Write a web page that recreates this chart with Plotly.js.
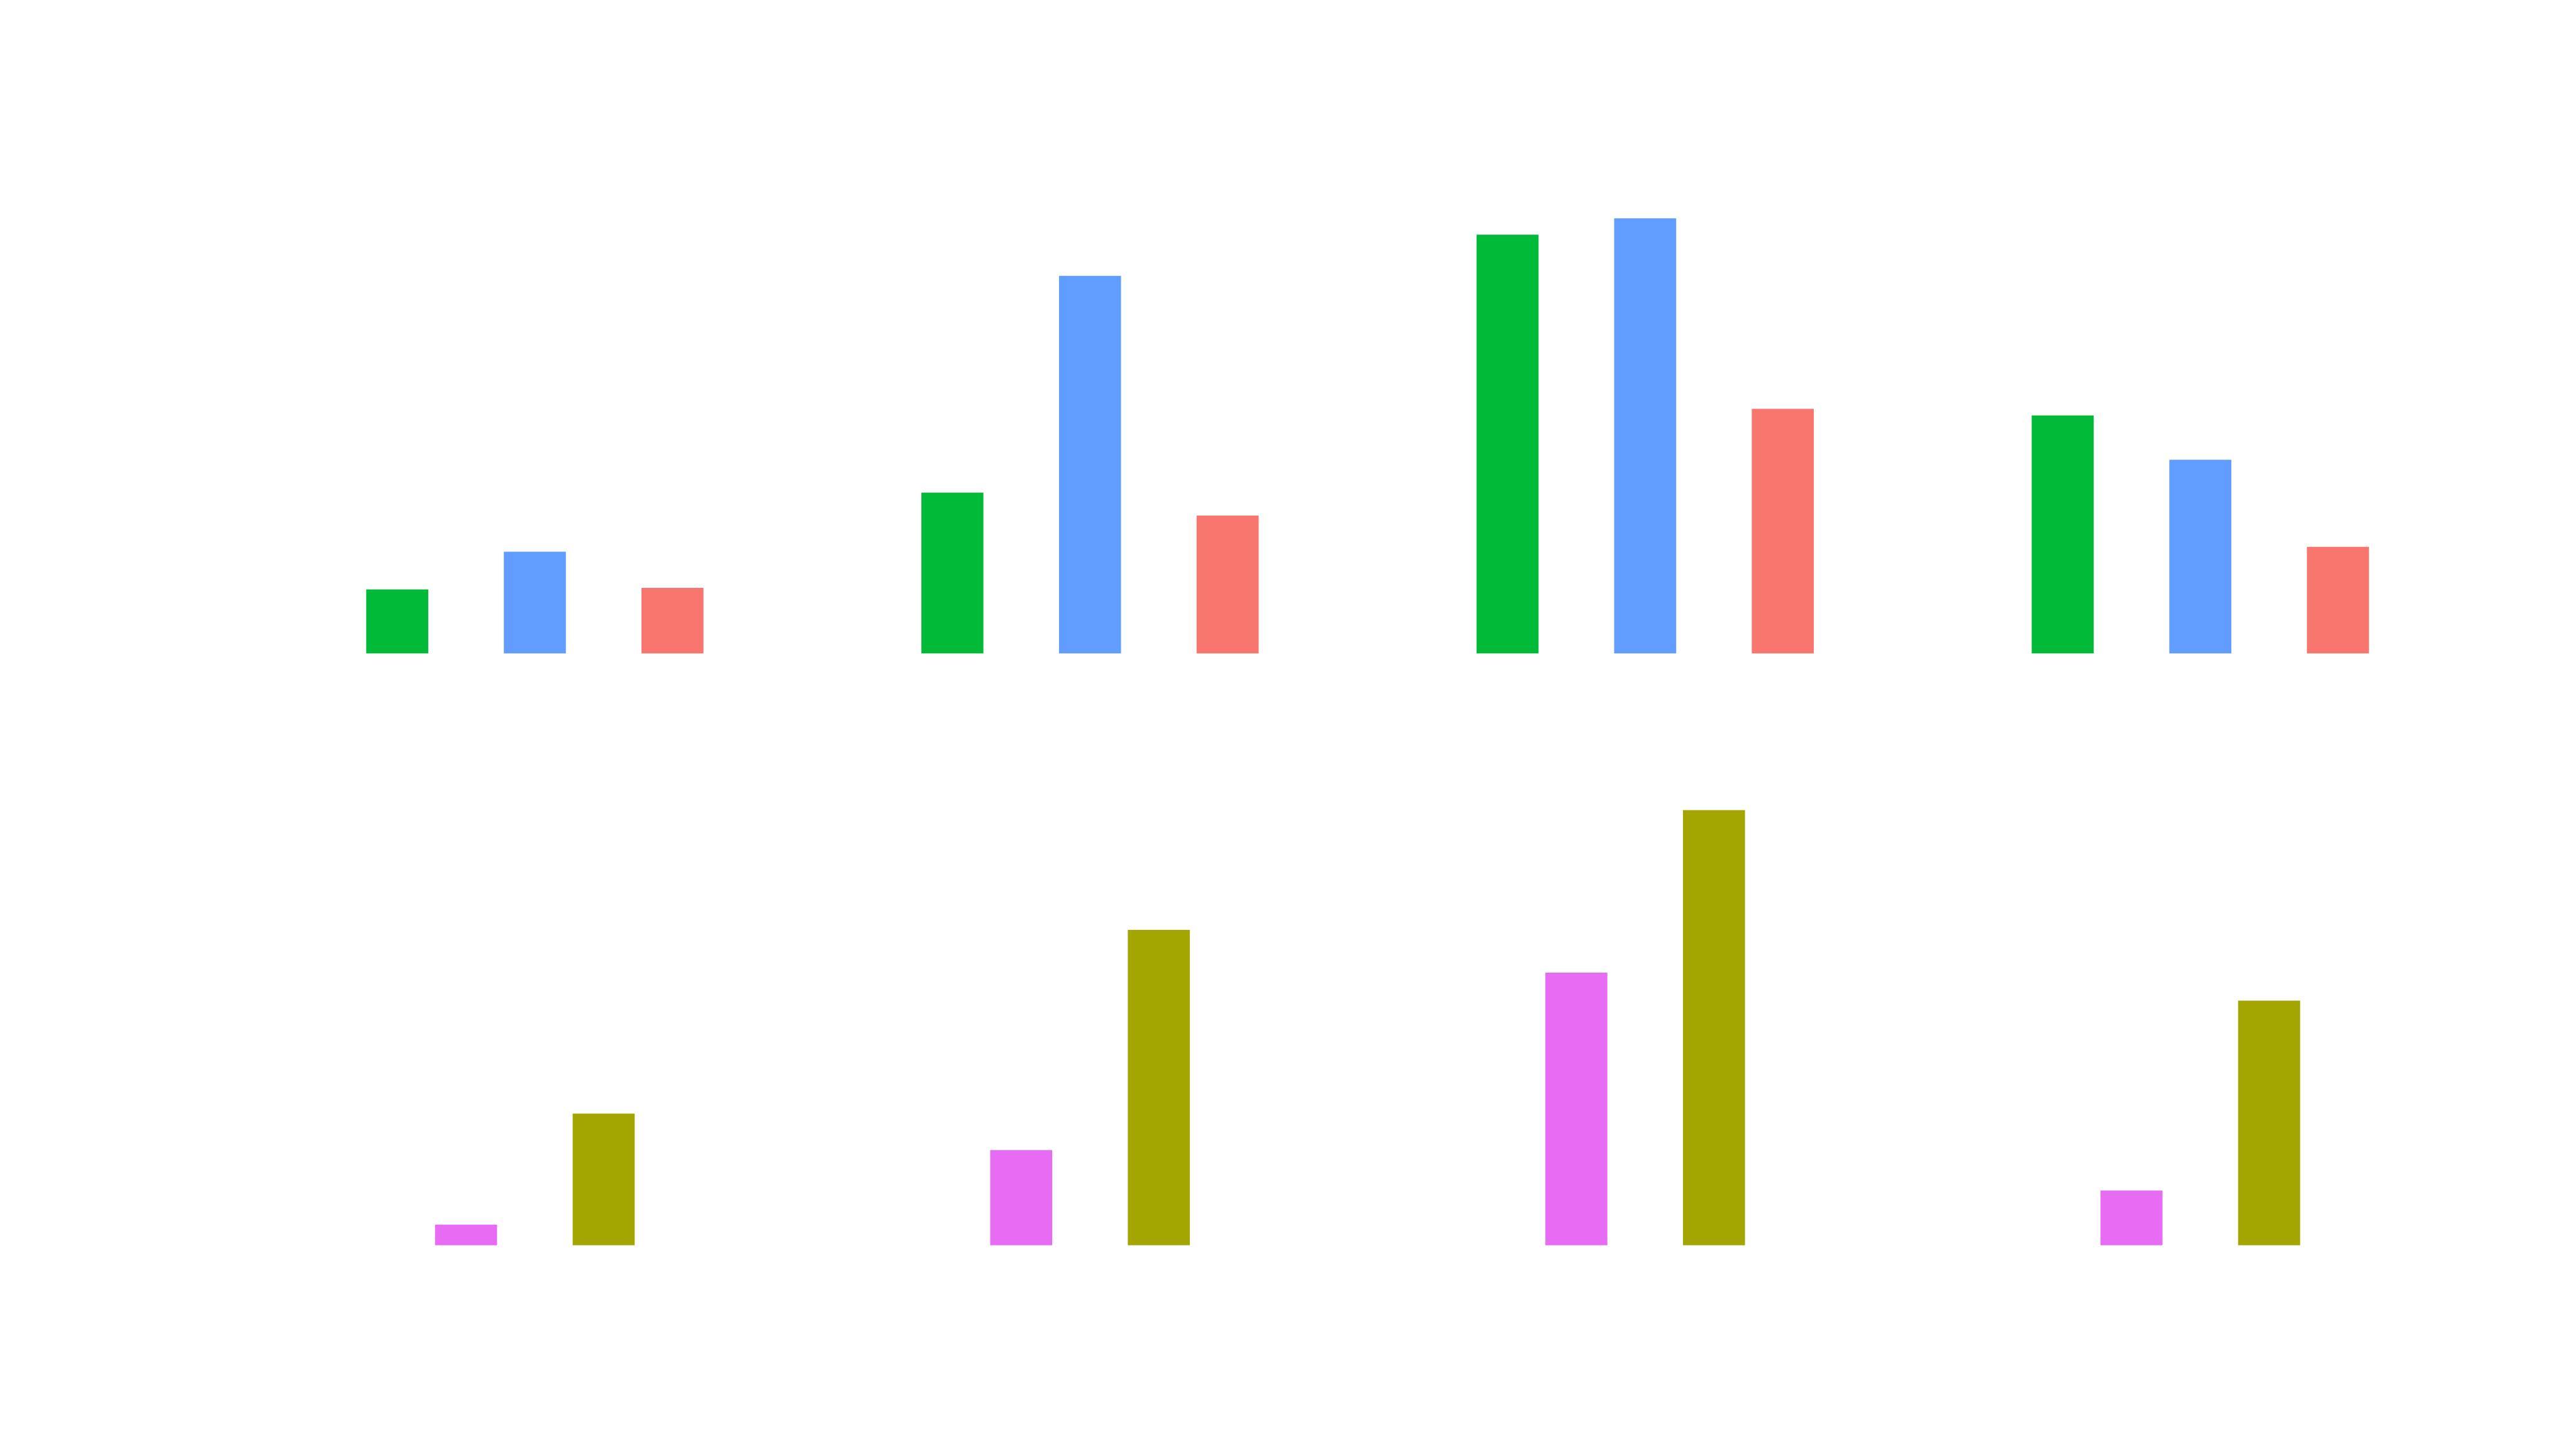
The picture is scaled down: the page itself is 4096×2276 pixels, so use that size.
<!DOCTYPE html>
<html>
<head>
<meta charset="utf-8">
<script src="https://cdn.plot.ly/plotly-3.0.1.min.js"></script>
<style>html,body{margin:0;padding:0;background:#fff;}#chart{width:4096px;height:2276px;}</style>
</head>
<body>
<div id="chart"></div>
<script>
// Categories (no labels are drawn in the reference)
const categories = ["1", "2", "3", "4"];

// Top panel series
const topGreen = [39, 98, 255, 145];
const topBlue  = [62, 230, 265, 118];
const topRed   = [40, 84, 149, 65];

// Bottom panel series
const botPink  = [12.6, 58, 166, 33.4];
const botOlive = [80.2, 192, 265, 149];

const W = 0.1117;   // bar width in category units
const S = 0.2479;   // dodge slot spacing

function bar(y, color, center, xa, ya) {
  return {
    type: 'bar', x: categories, y: y,
    xaxis: xa, yaxis: ya,
    width: W, offset: center - W / 2,
    marker: {color: color, line: {width: 0}},
    hoverinfo: 'skip', showlegend: false
  };
}

const data = [
  bar(topGreen, '#00BA38', -S, 'x', 'y'),
  bar(topBlue,  '#619CFF', 0,  'x', 'y'),
  bar(topRed,   '#F8766D', S,  'x', 'y'),
  bar(botPink,  '#E76BF3', -S / 2, 'x2', 'y2'),
  bar(botOlive, '#A3A500', S / 2,  'x2', 'y2')
];

const hidden = {visible: false, showgrid: false, zeroline: false, showticklabels: false, fixedrange: true};
const xdom = [409.1 / 4096, 3940.0 / 4096];

const layout = {
  width: 4096, height: 2276,
  margin: {l: 0, r: 0, t: 0, b: 0, pad: 0},
  paper_bgcolor: '#ffffff', plot_bgcolor: '#ffffff',
  barmode: 'overlay',
  showlegend: false,
  xaxis:  Object.assign({}, hidden, {type: 'category', domain: xdom, range: [-0.5, 3.5], anchor: 'y'}),
  yaxis:  Object.assign({}, hidden, {domain: [0.54328, 0.88761], range: [0, 300], anchor: 'x'}),
  xaxis2: Object.assign({}, hidden, {type: 'category', domain: xdom, range: [-0.5, 3.5], anchor: 'y2'}),
  yaxis2: Object.assign({}, hidden, {domain: [0.12975, 0.47408], range: [0, 300], anchor: 'x2'})
};

Plotly.newPlot('chart', data, layout, {staticPlot: true, displayModeBar: false});
</script>
</body>
</html>
